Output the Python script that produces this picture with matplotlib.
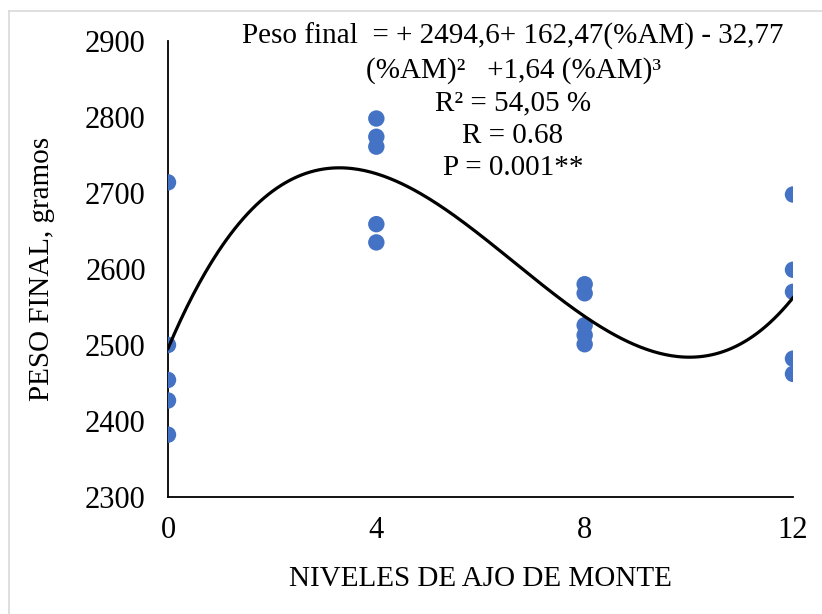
import numpy as np
import matplotlib
matplotlib.use('Agg')
import matplotlib.pyplot as plt
from matplotlib.lines import Line2D

plt.rcParams['font.family'] = ['Liberation Serif', 'DejaVu Serif']

# niveles de ajo de monte (%AM) y peso final (g)
niveles = [0, 4, 8, 12]
peso_0 = [2714, 2500, 2454, 2427, 2382]
peso_4 = [2798, 2774, 2761, 2659, 2635]
peso_8 = [2580, 2568, 2526, 2513, 2501]
peso_12 = [2698, 2599, 2570, 2482, 2462]
yticks = [2300, 2400, 2500, 2600, 2700, 2800, 2900]

BLUE = '#4472C4'

x = np.repeat(niveles, 5)
y = np.array(peso_0 + peso_4 + peso_8 + peso_12)

# ajuste cúbico
coef = np.polyfit(x, y, 3)
xs = np.linspace(0, 12, 300)
ys = np.polyval(coef, xs)

fig = plt.figure(figsize=(8.22, 6.14), dpi=100)
ax = fig.add_axes([168/822, 1-497/614, (793-168)/822, (497-41)/614])

ax.scatter(x, y, s=140, color=BLUE, zorder=3, edgecolors='none')
ax.plot(xs, ys, color='black', lw=2.3, zorder=4)

ax.set_xlim(0, 12)
ax.set_ylim(2300, 2900)
ax.set_xticks(niveles)
ax.set_yticks(yticks)
ax.tick_params(length=0, labelsize=22)
ax.tick_params(axis='y', pad=16)
ax.tick_params(axis='x', pad=14)
for s in ['top', 'right']:
    ax.spines[s].set_visible(False)
for s in ['left', 'bottom']:
    ax.spines[s].set_linewidth(1.3)

ax.set_xlabel('NIVELES DE AJO DE MONTE', fontsize=21)
ax.set_ylabel('PESO FINAL, gramos', fontsize=21)
ax.xaxis.set_label_coords(0.5, -0.152)
ax.yaxis.set_label_coords(-0.181, 0.5)

txt = ('Peso final  = + 2494,6+ 162,47(%AM) - 32,77\n'
       '(%AM)\u00b2   +1,64 (%AM)\u00b3\n'
       'R\u00b2 = 54,05 %\n'
       'R = 0.68\n'
       'P = 0.001**')
fig.text(513/822, 1-23/614, txt, ha='center', va='top', fontsize=21,
         linespacing=1.32)

# marco del gráfico
fig.add_artist(Line2D([9/822, 9/822], [0, 1-11/614], color='#d9d9d9', lw=1.2))
fig.add_artist(Line2D([9/822, 1], [1-11/614, 1-11/614], color='#d9d9d9', lw=1.2))

fig.savefig('out.png', dpi=100)
